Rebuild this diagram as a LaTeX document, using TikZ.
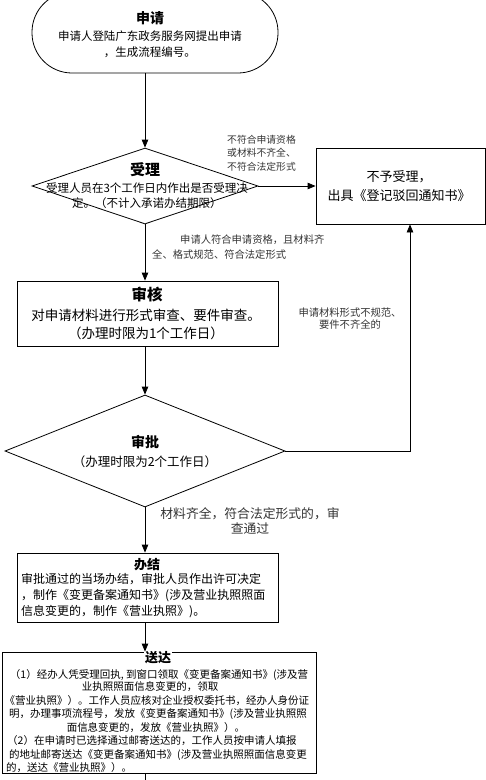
\documentclass[tikz,border=0pt]{standalone}
\usepackage{fontspec}
\setmainfont{Noto Sans CJK SC}
\usetikzlibrary{shapes.geometric,arrows.meta}
\begin{document}
\begin{tikzpicture}[x=1pt,y=-1pt,
  box/.style={draw, line width=0.8pt, inner sep=0pt},
  dia/.style={draw, diamond, line width=0.8pt, inner sep=0pt},
  arr/.style={-{Triangle[length=8pt,width=6.5pt]}, line width=0.8pt},
  ln/.style={line width=0.8pt},
  ttl/.style={font=\bfseries\fontsize{#1}{#1}\selectfont, inner sep=0pt},
  txt/.style 2 args={font=\fontsize{#1}{#2}\selectfont, inner sep=0pt, align=center},
  lbl/.style 2 args={font=\fontsize{#1}{#2}\selectfont, inner sep=0pt, text=black!80},
]
\useasboundingbox (0,0) rectangle (486,780);

% 申请
\node[box, rounded corners=40pt, minimum width=246pt, minimum height=81pt] (apply) at (155,32.5) {};
\node[ttl=14] (applyt) at (150,18) {申请};
\node[txt={11.5}{16}] (applyb) at (150,44) {申请人登陆广东政务服务网提出申请\\，生成流程编号。};

% 受理
\node[dia, minimum width=226pt, minimum height=76pt] (acc) at (145,186) {};
\node[ttl=15] (acct) at (145,170) {受理};
\node[txt={11.5}{15}] (accb) at (147,195.5) {受理人员在3个工作日内作出是否受理决\\定。（不计入承诺办结期限）};

% 不予受理
\node[box, minimum width=169pt, minimum height=76pt] (rej) at (400.5,186) {};
\node[txt={13}{19}] (rejb) at (399,186.5) {不予受理，\\出具《登记驳回通知书》};

% 审核
\node[box, minimum width=261pt, minimum height=65pt] (rev) at (147.5,313.5) {};
\node[ttl=15.5] (revt) at (147,294) {审核};
\node[txt={13.5}{18}] (revb) at (146,324) {对申请材料进行形式审查、要件审查。\\（办理时限为1个工作日）};

% 审批
\node[dia, minimum width=280pt, minimum height=112pt] (appr) at (145,451) {};
\node[ttl=14] (apprt) at (145,442) {审批};
\node[txt={12.5}{15}] (apprb) at (145,462) {（办理时限为2个工作日）};

% 办结
\node[box, minimum width=261pt, minimum height=69pt] (done) at (147.5,587.5) {};
\node[ttl=13] (donet) at (147,565) {办结};
\node[txt={12}{16}, align=left, anchor=west] (doneb) at (21,596) {审批通过的当场办结，审批人员作出许可决定\\，制作《变更备案通知书》(涉及营业执照照面\\信息变更的，制作《营业执照》)。};

% 送达
\node[box, minimum width=314pt, minimum height=121pt] (dlv) at (159,712.5) {};
\node[ttl=13, fill=white, inner sep=1pt] (dlvt) at (158,658) {送达};
\tikzset{dl/.style={font=\fontsize{10.5}{12}\selectfont, inner sep=0pt}}
\node[dl] (d1) at (159,675) {（1）经办人凭受理回执, 到窗口领取《变更备案通知书》(涉及营};
\node[dl] (d2) at (150,687) {业执照照面信息变更的，领取};
\node[dl] (d3) at (157,701) {《营业执照》）。工作人员应核对企业授权委托书，经办人身份证};
\node[dl] (d4) at (158,714) {明，办理事项流程号，发放《变更备案通知书》(涉及营业执照照};
\node[dl] (d5) at (156,728) {面信息变更的，发放《营业执照》）。};
\node[dl, anchor=west] (d6) at (7,741) {（2）在申请时已选择通过邮寄送达的，工作人员按申请人填报};
\node[dl] (d7) at (158,755) {的地址邮寄送达《变更备案通知书》(涉及营业执照照面信息变更};
\node[dl, anchor=west] (d8) at (6,768) {的，送达《营业执照》）。};

% connectors
\draw[arr] (acc.north |- apply.south) -- (acc.north);
\draw[arr] (acc.east) -- (rej.west);
\draw[arr] (acc.south) -- (acc.south |- rev.north);
\draw[arr] (appr.north |- rev.south) -- (appr.north);
\draw[arr] (appr.east) -| ([xshift=9.5pt]rej.south);
\draw[arr] (appr.south) -- (appr.south |- done.north);
\draw[arr] (appr.south |- done.south) -- (appr.south |- dlv.north);
\coordinate (endc) at (145,790);
\draw[ln] (appr.south |- dlv.south) -- (endc);

% labels
\node[lbl={9.8}{13.5}, align=left, anchor=west] (l1) at (227,153) {不符合申请资格\\或材料不齐全、\\不符合法定形式};
\node[lbl={10.3}{15}, align=left, anchor=west] (l2) at (152,247.5) {\hspace*{28pt}申请人符合申请资格，且材料齐\\全、格式规范、符合法定形式};
\node[lbl={10.3}{11.5}, align=center] (l3) at (350,318.5) {申请材料形式不规范、\\要件不齐全的};
\node[lbl={12.8}{15}, align=center] (l4) at (250,520.5) {材料齐全，符合法定形式的，审\\查通过};
\end{tikzpicture}
\end{document}
